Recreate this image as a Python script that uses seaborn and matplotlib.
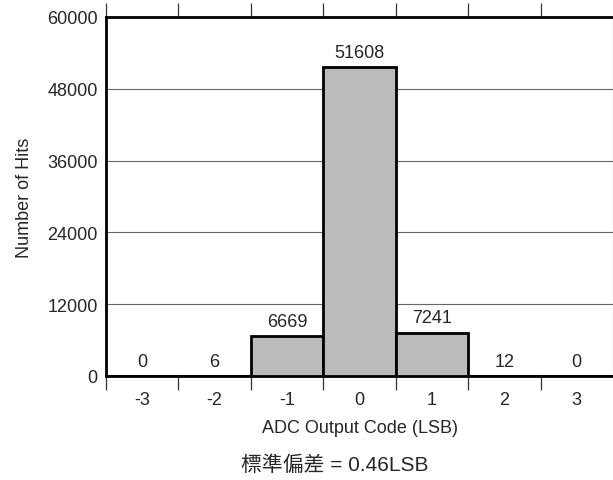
import matplotlib
matplotlib.use("Agg")
import matplotlib.pyplot as plt
import seaborn as sns
import pandas as pd
import numpy as np

codes = ["-3", "-2", "-1", "0", "1", "2", "3"]
hits = [0, 6, 6669, 51608, 7241, 12, 0]
yticks = [0, 12000, 24000, 36000, 48000, 60000]
xlabel = "ADC Output Code (LSB)"
ylabel = "Number of Hits"
caption = "標準偏差 = 0.46LSB"

sns.set_style("white")
plt.rcParams['font.family'] = ['Liberation Sans', 'Noto Sans CJK TC', 'DejaVu Sans']

FS = 13

df = pd.DataFrame({"code": codes, "hits": hits})

fig = plt.figure(figsize=(6.13, 4.81), dpi=100)
ax = fig.add_axes([106/613, 104/481, 507/613, 359/481])

sns.barplot(data=df, x="code", y="hits", order=codes, color="#BBBBBB",
            edgecolor="black", linewidth=2, width=1.0, saturation=1, ax=ax, zorder=3)

ax.set_xlim(-0.5, 6.5)
ax.set_ylim(0, 60000)
ax.set_yticks(yticks)
ax.set_yticklabels([str(v) for v in yticks], fontsize=FS)
ax.yaxis.grid(True, color="#666666", linewidth=0.8, zorder=0)
ax.set_axisbelow(True)
ax.tick_params(axis="y", length=0, pad=6)

# x boundaries as major ticks, labels on minor ticks
bounds = np.arange(len(codes)) - 0.5
ax.set_xticks(bounds)
ax.set_xticklabels([])
ax.set_xticks(np.arange(len(codes)), minor=True)
ax.set_xticklabels(codes, minor=True, fontsize=FS)
ax.tick_params(axis="x", which="major", length=10, width=0.9, color="#333333",
               direction="out", top=True, bottom=True)
ax.tick_params(axis="x", which="minor", length=0, pad=11)

for s in ["left", "bottom", "top"]:
    ax.spines[s].set_linewidth(2)
    ax.spines[s].set_color("black")
ax.spines["right"].set_linewidth(0.8)
ax.spines["right"].set_color("#666666")

for i, v in enumerate(hits):
    ax.annotate(str(v), (i, v), xytext=(0, 4.5), textcoords="offset points",
                ha="center", va="bottom", fontsize=FS)

ax.set_xlabel(xlabel, fontsize=FS, labelpad=8)
ax.set_ylabel(ylabel, fontsize=FS, labelpad=10)

fig.text(335/613, 1 - 465/481, caption, ha="center", va="center", fontsize=15)

fig.savefig("out.png", dpi=100)
